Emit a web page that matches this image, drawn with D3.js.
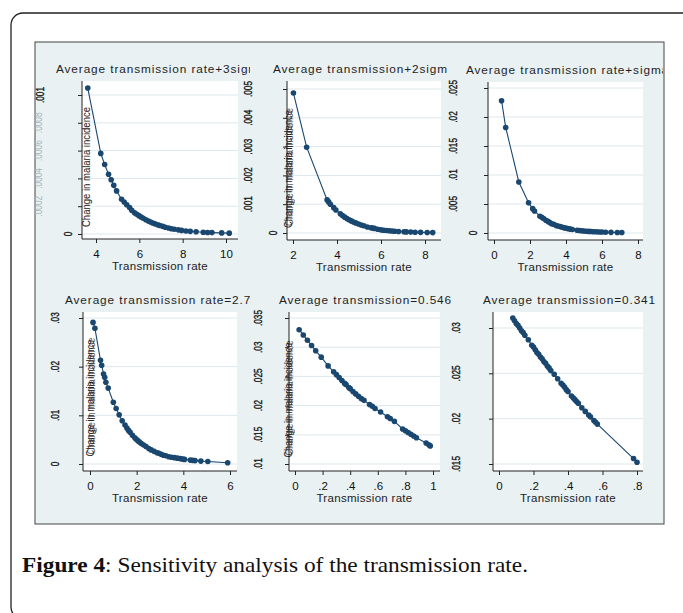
<!DOCTYPE html>
<html>
<head>
<meta charset="utf-8">
<script src="https://cdn.jsdelivr.net/npm/d3@7"></script>
<style>
body{margin:0;background:#fff;}
svg{display:block;}
</style>
</head>
<body>
<div id="plot"></div>
<script>
// panel titles (clipped in the original figure)
var titles = ['Average transmission rate+3sigma','Average transmission+2sigma','Average transmission rate+sigma',
              'Average transmission rate=2.7','Average transmission=0.546','Average transmission=0.341'];
var xTitle = 'Transmission rate';
var yTitle = 'Change in malaria incidence';
var caption = ['Figure 4', ': Sensitivity analysis of the transmission rate.'];

// series
var p1X = [3.62,4.22,4.40,4.58,4.70,4.82,4.95,5.18,5.30,5.42,5.55,5.65,5.78,5.88,5.98,6.08,6.18,6.30,6.42,6.52,6.62,6.72,6.85,6.95,7.08,7.20,7.35,7.48,7.62,7.80,7.95,8.15,8.35,8.62,8.95,9.15,9.35,9.80,10.15];
var p1Y = [.00105,.00058,.00050,.00043,.00039,.00035,.00031,.00025,.00023,.00021,.00019,.00017,.000152,.000142,.000132,.000122,.000113,.000103,.000093,.000086,.000079,.000073,.000066,.000061,.000055,.000049,.000043,.000038,.000034,.000030,.000026,.000022,.000019,.000016,.000013,.000011,.00001,.000008,.000006];

var p2X = [2.02,2.62,3.55,3.62,3.70,3.85,3.95,4.15,4.25,4.35,4.45,4.55,4.65,4.75,4.85,4.98,5.10,5.22,5.38,5.55,5.62,5.70,5.85,6.00,6.12,6.25,6.38,6.50,6.62,6.80,7.05,7.15,7.35,7.55,7.80,8.10,8.35];
var p2Y = [.00486,.00298,.00115,.00108,.00100,.00088,.00080,.00067,.00061,.00055,.00050,.00046,.00042,.00038,.00035,.00031,.00028,.00025,.00021,.00018,.00017,.00016,.00013,.00011,.000098,.000088,.000078,.000069,.000062,.000053,.000042,.000038,.000032,.000027,.000022,.000017,.000014];

var p3X = [0.42,0.65,1.38,1.92,2.15,2.25,2.55,2.65,2.75,2.88,3.00,3.10,3.20,3.32,3.45,3.55,3.68,3.80,3.92,4.05,4.15,4.25,4.35,4.62,4.75,4.88,5.00,5.15,5.28,5.42,5.55,5.70,5.85,6.00,6.20,6.50,6.85,7.10];
var p3Y = [.0228,.0182,.0088,.0052,.0042,.0038,.0029,.0027,.0025,.0022,.0020,.0018,.0016,.0015,.0013,.0012,.0011,.00098,.00088,.00079,.00072,.00066,.00060,.00048,.00043,.00039,.00035,.00031,.00028,.00025,.00022,.00020,.00018,.00016,.00014,.00011,.00009,.00008];

var p4X = [0.13,0.21,0.45,0.50,0.58,0.63,0.68,0.78,1.00,1.12,1.25,1.38,1.50,1.58,1.65,1.72,1.82,1.92,1.98,2.05,2.12,2.20,2.30,2.40,2.52,2.62,2.75,2.88,2.95,3.05,3.15,3.25,3.38,3.50,3.62,3.75,3.88,3.98,4.05,4.30,4.40,4.50,4.75,5.05,5.90];
var p4Y = [.0291,.0279,.0213,.0203,.0185,.0178,.0168,.0156,.0127,.0114,.0101,.0089,.0080,.0074,.0069,.0065,.0059,.0054,.0051,.0048,.0045,.0042,.0039,.0036,.0032,.0029,.0026,.0023,.0022,.0020,.0018,.0017,.0015,.0014,.0013,.0012,.0011,.0010,.00095,.00080,.00075,.00070,.00060,.00050,.00025];

var p5X = [.03,.06,.09,.12,.15,.19,.24,.28,.30,.32,.34,.36,.37,.39,.40,.42,.44,.46,.48,.50,.54,.56,.58,.62,.67,.69,.72,.78,.80,.82,.84,.86,.88,.95,.97,.98];
var p5Y = [.0330,.0321,.0312,.0303,.0294,.0283,.0268,.0258,.0253,.0248,.0243,.0238,.0236,.0231,.0229,.0224,.0220,.0216,.0212,.0209,.0202,.0199,.0195,.0189,.0181,.0178,.0173,.0160,.0157,.0154,.0151,.0148,.0145,.0136,.0133,.0131];

var p6X = [.08,.09,.10,.11,.12,.13,.14,.15,.17,.19,.20,.21,.22,.23,.24,.25,.26,.27,.28,.29,.30,.32,.34,.36,.37,.38,.39,.40,.42,.43,.44,.45,.46,.48,.50,.52,.53,.55,.56,.57,.78,.80];
var p6Y = [.0311,.0308,.0305,.0303,.0300,.0297,.0295,.0292,.0287,.0281,.0279,.0276,.0273,.0271,.0268,.0266,.0263,.0261,.0258,.0256,.0253,.0249,.0244,.0239,.0237,.0235,.0232,.0230,.0225,.0223,.0221,.0219,.0217,.0212,.0208,.0204,.0202,.0198,.0196,.0194,.0156,.0152];

// tick values
var xTicks = [[4,6,8,10],[2,4,6,8],[0,2,4,6,8],[0,2,4,6],[0,.2,.4,.6,.8,1],[0,.2,.4,.6,.8]];
var yTicks = [[0,.0002,.0004,.0006,.0008,.001],[0,.001,.002,.003,.004,.005],[0,.005,.01,.015,.02,.025],
              [0,.01,.02,.03],[.01,.015,.02,.025,.03,.035],[.015,.02,.025,.03]];

var seriesX = [p1X,p2X,p3X,p4X,p5X,p6X];
var seriesY = [p1Y,p2Y,p3Y,p4Y,p5Y,p6Y];

// layout of each panel (pixels); the y labels sit displaced like in the scan
var layout = [
  {box:[82,81,238,239], xr:[96,226], yr:[234,95], tx:56, cellR:250, labX:40, zeroX:68, faint:true, yt:{x:86,y:167,len:120,dup:false}},
  {box:[287,81,441,240], xr:[293,425], yr:[233,89], tx:273, cellR:447, labX:248, zeroX:273, yt:{x:288,y:169,len:118,dup:true}},
  {box:[488,82,643,240], xr:[494,638], yr:[233,88], tx:466, cellR:663, labX:453, zeroX:473},
  {box:[83,312,237,471], xr:[90,230], yr:[464,318], tx:65, cellR:250, labX:55, zeroX:55, yt:{x:90,y:398,len:117,dup:true}},
  {box:[289,312,440,471], xr:[295,433], yr:[464,318], tx:279, cellR:456, labX:258, zeroX:258, yt:{x:288,y:400,len:115,dup:true}},
  {box:[493,312,643,471], xr:[499,637], yr:[464,328], tx:483, cellR:663, labX:456, zeroX:456}
];

var navy = '#1a476f';
var sans = '"Liberation Sans", Arial, sans-serif';

function fmt(v){
  var s = String(+v.toFixed(6));
  return s.replace(/^0\./,'.');
}

var svg = d3.select('#plot').append('svg')
    .attr('width',683)
    .attr('height',613);

// outer page frame
svg.append('rect')
    .attr('x',11).attr('y',13)
    .attr('width',730).attr('height',606)
    .attr('rx',12)
    .attr('fill','none')
    .attr('stroke','#222')
    .attr('stroke-width',1.3);

// graph region
svg.append('rect')
    .attr('x',35).attr('y',42)
    .attr('width',629).attr('height',482)
    .attr('fill','#e9f1f3')
    .attr('stroke','#444')
    .attr('stroke-width',1);

var defs = svg.append('defs');

layout.forEach(function(p,i){
    var g = svg.append('g').attr('class','panel');
    var x = d3.scaleLinear().domain([xTicks[i][0], xTicks[i][xTicks[i].length-1]]).range(p.xr);
    var y = d3.scaleLinear().domain([yTicks[i][0], yTicks[i][yTicks[i].length-1]]).range(p.yr);
    var b = p.box;

    // white plot region
    g.append('rect')
        .attr('x',b[0]).attr('y',b[1])
        .attr('width',b[2]-b[0]).attr('height',b[3]-b[1])
        .attr('fill','#fff');

    // grid
    g.selectAll('.grid').data(yTicks[i]).enter().append('line')
        .attr('x1',b[0]).attr('x2',b[2])
        .attr('y1',function(d){return y(d);})
        .attr('y2',function(d){return y(d);})
        .attr('stroke','#dde8ec')
        .attr('stroke-width',1);

    // axes
    var xa = g.append('g')
        .attr('transform','translate(0,'+b[3]+')')
        .call(d3.axisBottom(x).tickValues(xTicks[i]).tickFormat(fmt).tickSize(4).tickSizeOuter(0).tickPadding(7));
    var ya = g.append('g')
        .attr('transform','translate('+b[0]+',0)')
        .call(d3.axisLeft(y).tickValues(yTicks[i]).tickFormat('').tickSize(4).tickSizeOuter(0));
    [xa,ya].forEach(function(a){
        a.select('.domain').remove();
        a.selectAll('line').attr('stroke','#222');
        a.selectAll('text').style('font-family',sans).style('font-size','11.5px').attr('fill','#111');
    });
    g.append('line').attr('x1',b[0]).attr('x2',b[2]).attr('y1',b[3]).attr('y2',b[3]).attr('stroke','#222');
    g.append('line').attr('x1',b[0]).attr('x2',b[0]).attr('y1',b[1]).attr('y2',b[3]).attr('stroke','#222');

    // y tick labels, rotated
    yTicks[i].forEach(function(v,k){
        var last = yTicks[i].length-1;
        var isFaint = p.faint && k>0 && k<last;
        var lx = v===0 ? p.zeroX : p.labX;
        if(isFaint) lx = 38;
        g.append('text')
            .attr('transform','translate('+lx+','+y(v)+') rotate(-90) scale(0.72,1)')
            .attr('text-anchor','middle')
            .attr('dominant-baseline','central')
            .style('font-family',sans)
            .style('font-size','11.5px')
            .attr('fill',isFaint ? '#a9b3b8' : '#111')
            .attr('stroke',isFaint ? 'none' : '#111')
            .attr('stroke-width',0.35)
            .text(fmt(v));
    });

    // y axis title
    if(p.yt){
        var reps = p.yt.dup ? [[0,0],[0.8,-2]] : [[0,0]];
        reps.forEach(function(o){
            g.append('text')
                .attr('transform','translate('+(p.yt.x+o[0])+','+(p.yt.y+o[1])+') rotate(-90)')
                .attr('text-anchor','middle')
                .attr('dominant-baseline','central')
                .attr('textLength',p.yt.len)
                .attr('lengthAdjust','spacingAndGlyphs')
                .style('font-family',sans)
                .style('font-size','11px')
                .attr('fill','#222')
                .attr('opacity',o[0] ? 0.75 : 1)
                .text(yTitle);
        });
    }

    // x axis title
    g.append('text')
        .attr('x',(b[0]+b[2])/2)
        .attr('y',b[3]+27)
        .attr('text-anchor','middle')
        .attr('dominant-baseline','central')
        .style('font-family',sans)
        .style('font-size','11.5px')
        .style('letter-spacing','0.3px')
        .attr('fill','#222')
        .text(xTitle);

    // panel title, clipped to its cell
    defs.append('clipPath').attr('id','cell'+i)
        .append('rect').attr('x',36).attr('y',b[1]-30).attr('width',p.cellR-36).attr('height',30);
    g.append('text')
        .attr('x',p.tx)
        .attr('y',b[1]-8)
        .attr('clip-path','url(#cell'+i+')')
        .style('font-family',sans)
        .style('font-size','11.8px')
        .style('letter-spacing','0.9px')
        .attr('fill','#1e1e1e')
        .text(titles[i]);

    // connected markers
    var pts = d3.zip(seriesX[i], seriesY[i]);
    var line = d3.line().x(function(d){return x(d[0]);}).y(function(d){return y(d[1]);});
    g.append('path')
        .datum(pts)
        .attr('d',line)
        .attr('fill','none')
        .attr('stroke',navy)
        .attr('stroke-width',1.1);
    g.selectAll('.pt').data(pts).enter().append('circle')
        .attr('cx',function(d){return x(d[0]);})
        .attr('cy',function(d){return y(d[1]);})
        .attr('r',2.8)
        .attr('fill',navy);
});

// caption
var cap = svg.append('text')
    .attr('x',22)
    .attr('y',572)
    .attr('textLength',506)
    .attr('lengthAdjust','spacingAndGlyphs')
    .style('font-family','"Liberation Serif", "Times New Roman", serif')
    .style('font-size','21px')
    .attr('fill','#111');
cap.append('tspan').style('font-weight','bold').text(caption[0]);
cap.append('tspan').text(caption[1]);
</script>
</body>
</html>
